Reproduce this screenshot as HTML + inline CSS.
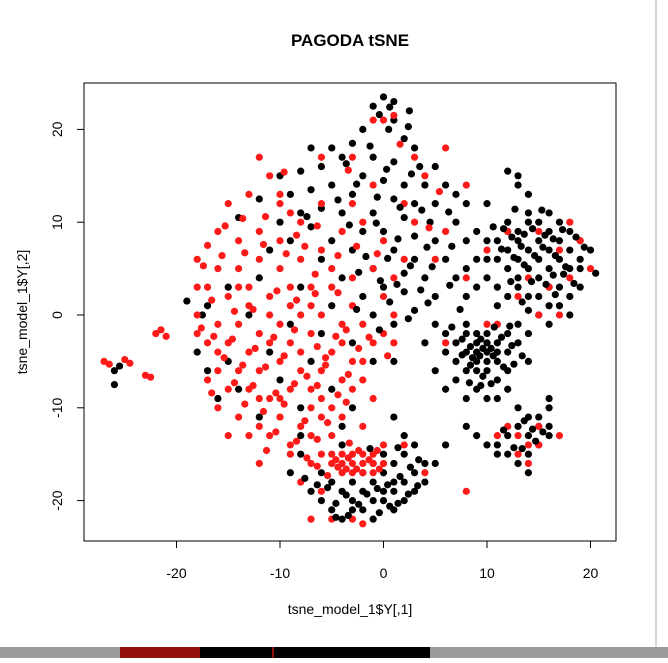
<!DOCTYPE html>
<html><head><meta charset="utf-8"><style>
body{margin:0;width:668px;height:658px;background:#fff;overflow:hidden;font-family:"Liberation Sans",sans-serif}
</style></head><body>
<svg width="668" height="658">
<rect x="0" y="0" width="668" height="658" fill="#ffffff"/>
<line x1="656" y1="0" x2="656" y2="648" stroke="#d8d8d8" stroke-width="2"/>
<rect x="0" y="647" width="668" height="11" fill="#9c9c9c"/>
<rect x="120" y="647" width="80" height="11" fill="#94100c"/>
<rect x="200" y="647" width="230" height="11" fill="#000"/>
<rect x="272" y="647" width="2" height="11" fill="#94100c"/>
<text x="350" y="46" text-anchor="middle" font-size="17" font-weight="bold">PAGODA tSNE</text>
<rect x="84" y="83" width="532" height="458" fill="none" stroke="#000" stroke-width="1"/>
<g id="axes"></g>
<g id="pts"></g>
<text x="350" y="614" text-anchor="middle" font-size="14">tsne_model_1$Y[,1]</text>
<text transform="translate(27,312) rotate(-90)" text-anchor="middle" font-size="14">tsne_model_1$Y[,2]</text>
</svg>
<script>
const xTicks=[-20,-10,0,10,20];
const yTicks=[-20,-10,0,10,20];
const blackPts=[[0,23.5],[1,23],[-1,22.5],[2.5,22],[1,21],[0.5,20],[-2,20],[2,19],[-3,18.5],[-5,18],[-7,18],[3,18],[-4,17],[-1,17],[1,16.5],[3.5,16],[5,16],[-6,16],[-8,15.5],[-10,15],[-2,15],[0,14.5],[2,14],[4,14],[6,14],[7,13],[-5,14],[-7,13.5],[-9,13],[-12,12.5],[-3,13],[1,12.5],[3,12],[5,12],[8,12],[-6,11.5],[-8,11],[-4,11],[-1,11],[2,10.5],[4.5,10],[7,10],[-10,10],[-14,10.5],[-7,9.5],[-2,9],[0,9],[3,8.5],[5,8],[8,8],[-5,8],[-9,8],[-11,7],[-3,7],[1,7],[3,6],[6,6],[9,6],[-6,6],[-1,5],[2,4.5],[4,4],[7,4],[-4,4],[0,3],[2,2.5],[5,2],[8,2],[-2,2],[3,0.5],[-1,0],[1,-1],[-5,1],[-8,3],[-12,4],[-15,3],[-17,1],[-19,1.5],[-13,0],[-9,-1],[-6,-2],[-3,-3],[-1,-5],[1,-5],[-7,-5],[-11,-4],[-15,-5],[-17,-6],[-14,-8],[-10,-7],[-5,-8],[-3,-10],[-8,-10],[-12,-11],[-16,-9],[-4,-12],[1,-11],[3,-14],
[9,9],[10,12],[12,15.5],[13,15],[13,14],[14,13],
[12,10],[13,9],[14,10],[15,10],[16,11],[17,10],[18,9],[19,8],[20,7],[19,6],[18,5],[17,6],[16,7],[15,8],[14,7],[13,8],[12,7],[11,8],[11,6],[12,5],[13,4],[14,5],[15,4],[16,3],[17,3],[18,2],[19,3],[17,1],[16,1],[15,2],[14,2],[13,3],[12,2],[11,3],[10,4],[9,3],[8,5],[10,6],[14,11],[16,9],[18,7],[15,6],[13,6],[17,8],[19,5],[20.5,4.5],[16,5],[12,9],[10,8],[11,1],[15,0],[16,-1],[14,0.5],[18,0],
[5,-1],[6,-2],[7,-3],[8,-2],[9,-3],[10,-2],[11,-3],[12,-2],[13,-1],[8,-1],[9,-4],[10,-4],[11,-5],[12,-4],[13,-3],[7,-5],[8,-6],[9,-6],[10,-6],[11,-7],[12,-6],[14,-5],[6,-4],[9,-8],[10,-9],[8,-9],[11,-9],[7,-7],[10,-3],[9,-5],[10,-5],[11,-4],[9,-2],[8,-4],[12,-8],[14,-2],[4,-3],[5,-6],[6,-8],
[13,-10],[14,-11],[15,-11],[16,-10],[16,-9],[15,-12],[14,-13],[13,-12],[12,-13],[11,-14],[11,-15],[12,-15],[13,-16],[14,-15],[15,-14],[16,-13],[16,-12],[14,-17],[10,-14],[9,-13],[8,-12],[6,-14],[5,-16],
[-6,-17],[-5,-18],[-4,-19],[-3,-20],[-2,-19],[-1,-18],[0,-17],[1,-16],[2,-15],[3,-17],[-7,-19],[-6,-20],[-5,-21],[-4,-22],[-2,-21],[-1,-22],[0,-20],[1,-19],[2,-18],[3,-19],[4,-18],[-3,-18],[0,-19],[1,-21],[2,-20],[-1,-20],[-2,-17],[0,-15],[2,-13],[-4,-14],[-8,-15],[-9,-17],[-3,-21],[1,-18],[-1,-16],[4,-16],[-8,-13],
[-26,-6],[-26,-7.5],[-25.5,-5.5],[-18,-4],[-17.5,0]];
const blackPts2=[[0.6,22.4],[-0.4,21.6],[2.4,20.3],[-1.3,18.2],[-3.6,16.3],[0.3,15.7],[2.7,15.2],[-2.6,14.1],[-4.4,12.4],[-0.6,12.7],[1.6,11.6],[3.7,11.3],[6.3,11.1],[-7.4,10.6],[-3.3,9.7],[-0.7,9.9],[1.4,8.2],[4.2,7.3],[6.6,7.4],[-1.7,6.3],[0.4,6.1],[2.6,5.3],[4.7,5.2],[-2.4,4.6],[-0.3,3.7],[1.3,3.3],[3.6,2.7],[6.4,3.2],[0.6,1.4],[2.4,-0.4],[-0.4,-1.6],[-2.6,0.6],[7.4,0.6],[4.3,1.3],
[11.6,9.3],[12.4,8.4],[13.6,8.7],[14.4,9.3],[15.6,8.6],[16.4,8.2],[17.3,9.2],[18.6,8.4],[13.3,7.4],[14.6,6.4],[15.4,7.3],[16.6,6.4],[17.6,5.2],[12.6,6.2],[11.4,7.1],[13.6,5.4],[14.3,3.6],[15.7,3.3],[16.4,4.3],[17.4,4.4],[12.3,3.6],[13.4,1.4],[16.6,2.2],[18.4,3.4],[19.4,7.3],[15.3,11.3],[12.7,11.4],[10.6,9.5],
[7.6,-2.6],[8.4,-3.4],[9.4,-2.6],[9.6,-3.6],[10.4,-3.6],[11.4,-2.4],[12.4,-3.3],[8.6,-4.6],[9.3,-4.4],[10.6,-4.4],[11.6,-5.6],[12.6,-5.3],[8.4,-5.4],[9.6,-6.6],[10.4,-7.4],[7.6,-4.3],[13.4,-4.4],[10.7,-1.3],[12.2,-1.2],[9.4,-7.6],[8.3,-7.3],[6.6,-1.3],
[13.6,-11.4],[14.4,-12.3],[15.4,-12.6],[12.6,-14.3],[13.4,-14.4],[14.7,-13.6],[11.6,-12.4],
[-5.4,-18.6],[-4.6,-20.3],[-3.6,-19.4],[-2.4,-20.4],[-1.6,-19.3],[-0.6,-18.7],[0.4,-18.3],[1.6,-17.4],[2.6,-16.4],[-6.4,-18.3],[-3.4,-21.6],[-0.4,-21.3],[0.6,-20.6],[1.4,-20.3],[2.4,-19.3],[3.3,-18.4],[-1.3,-14.4],[1.4,-14.3],[3.4,-15.6],[-7.6,-17.6],[-4.6,-21.8]];
const redPts=[[-27,-5],[-26.5,-5.3],[-25,-4.8],[-24.5,-5.2],[-23,-6.5],[-22.5,-6.7],[-22,-2],[-21.5,-1.6],[-21,-2.3],
[-18,6],[-17,7.5],[-16,9],[-15,12],[-13,13],[-12,17],[-11,15],[-10,13],[-14,8],[-12,9],[-10,8],[-8,10],[-16,5],[-14,5],[-12,6],[-10,5],[-8,6],[-6,7],[-4,9],[-17,3],[-15,2],[-13,3],[-11,2],[-9,3],[-7,3],[-5,3],[-3,4],[-18,0],[-16,-1],[-14,-1],[-12,-2],[-10,-1],[-8,0],[-6,0],[-4,-1],[-2,-1],[0,-2],[-17,-3],[-15,-3],[-13,-4],[-11,-3],[-9,-3],[-7,-2],[-5,-4],[-3,-5],[-1,-3],[1,-3],[-16,-6],[-14,-6],[-12,-6],[-10,-5],[-8,-6],[-6,-6],[-4,-7],[-2,-7],[-15,-8],[-13,-8],[-11,-9],[-9,-8],[-7,-8],[-5,-10],[-3,-8],[-1,-9],[-14,-11],[-12,-9],[-10,-11],[-8,-12],[-6,-11],[-4,-11],[-2,-12],[-13,-13],[-11,-13],[-9,-14],[-7,-13],[-5,-13],[-12,-16],[-16,-4],[-17,-7],[-18,-2],[-9,1],[-11,0],[-13,1],[-7,1],[-5,5],[-9,11],[-6,12],[-3,12],[-2,10],[0,8],[2,6],[-1,5],[1,4],[0,2],[-3,1],[1,0],[-14,3],[-12,-12],[-10,-9],[-6,-9],[-8,-4],[-4,-3],[-2,-5],[-16,-10],[-18,3],[-15,-13],[-7,-10],
[-6,17],[-3,17],[0,21],[1,21.5],[-1,21],[3,17],[6,18],[4,15],[8,14],[-10,12],[3,10],[6,9],[2,12],[5,6],[8,4],[-1,14],
[-5,-15],[-4,-16],[-3,-15],[-2,-16],[-1,-15],[0,-16],[-4,-17],[-3,-17],[-2,-15],[-1,-17],[-5,-16],[-6,-15],[-3,-16],[-2,-17],[-4,-15],[-1,-16],[0,-14],[2,-14],[-7,-16],[-8,-18],[-6,-19],[-5,-22],[-3,-22],[-2,-22.5],[-7,-22],[4,-17],[-9,-15],
[12,9],[15,9],[17,7],[18,10],[19,8],[14,4],[16,3],[18,4],[20,5],[13,2],[17,0],[15,0],[11,-1],[10,7],[12,-12],[13,-13],[14,-14],[15,-14],[13,-15],[14,-16],[11,-13],[17,-13],[8,-19],[15,-12],[10,-1],[6,-3]];
const redPts2=[[-17.4,5.3],[-15.6,6.4],[-13.4,6.7],[-11.6,7.6],[-9.4,6.6],[-7.6,7.4],[-15.3,9.6],[-13.6,10.4],[-11.4,10.6],[-16.6,1.6],[-14.4,0.4],[-12.6,0.6],[-10.3,2.6],[-8.4,1.6],[-6.6,2.3],[-4.4,2.4],[-16.4,-2.3],[-14.6,-2.6],[-12.4,-3.6],[-10.6,-2.4],[-8.6,-1.6],[-6.4,-3.4],[-4.6,-2.3],[-2.4,-3.6],[-15.4,-4.6],[-13.6,-5.4],[-11.4,-5.6],[-9.6,-4.4],[-7.4,-6.6],[-5.6,-5.4],[-3.4,-6.4],[-14.4,-7.3],[-12.6,-7.6],[-10.4,-8.4],[-8.6,-7.4],[-6.4,-7.6],[-4.4,-8.6],[-13.4,-9.6],[-11.6,-10.4],[-9.6,-9.6],[-7.6,-11.4],[-5.4,-11.6],[-3.6,-9.4],[-10.4,-12.6],[-8.4,-13.6],[-6.4,-13.4],[-11.3,-14.6],[-7.4,-15.4],[-5.6,-4.6],[-3.6,-1.6],[-1.4,-2.4],[0.4,-4.4],[-6.6,4.4],[-4.4,6.4],[-8.4,8.6],[-6.4,9.6],[-2.6,7.4],[-0.6,6.6],[-17.6,-1.4],[-16.6,-8.4],
[-4.6,-15.6],[-3.4,-15.4],[-2.6,-16.6],[-1.4,-15.6],[-0.4,-16.6],[-4.4,-16.4],[-3.6,-16.6],[-5.4,-17.3],[-2.4,-14.6],[-6.4,-16.3],[-0.6,-14.6],[-3.3,-13.8],
[-9.6,15.4],[-3.4,15.6],[1.6,18.4],[5.4,13.3],[4.4,9.4]];
const NS='http://www.w3.org/2000/svg';
function sx(v){return 383.5+v*10.35;}
function sy(v){return 315+(-v)*9.28;}
const axes=document.getElementById('axes');
function mk(tag,attrs,parent){const e=document.createElementNS(NS,tag);for(const k in attrs)e.setAttribute(k,attrs[k]);parent.appendChild(e);return e;}
mk('line',{x1:sx(-20),x2:sx(20),y1:541,y2:541,stroke:'#000'},axes);
mk('line',{x1:84,x2:84,y1:sy(-20),y2:sy(20),stroke:'#000'},axes);
xTicks.forEach(t=>{
  const l=mk('line',{x1:sx(t),x2:sx(t),y1:541,y2:548,stroke:'#000'},axes);
  
  
  const tx=mk('text',{x:sx(t),y:578,'text-anchor':'middle','font-size':'14'},axes);
  tx.textContent=t;
  
  
});
yTicks.forEach(t=>{
  const l=mk('line',{x1:77,x2:84,y1:sy(t),y2:sy(t),stroke:'#000'},axes);
  
  
  const tx=mk('text',{transform:'translate(62,'+sy(t)+') rotate(-90)','text-anchor':'middle','font-size':'14'},axes);
  tx.textContent=t;
  
  
});
const pts=document.getElementById('pts');
function drawBlack(arr){arr.forEach(p=>{
  const c=mk('circle',{cx:sx(p[0]),cy:sy(p[1]),r:3.6,fill:'#000'},pts);
  
  
});}
function drawRed(arr){arr.forEach(p=>{
  const c=mk('circle',{cx:sx(p[0]),cy:sy(p[1]),r:3.6,fill:'#ff1a1a'},pts);
  
  
});}
drawBlack(blackPts);
drawRed(redPts);
drawBlack(blackPts2);
drawRed(redPts2);
</script>
</body></html>
